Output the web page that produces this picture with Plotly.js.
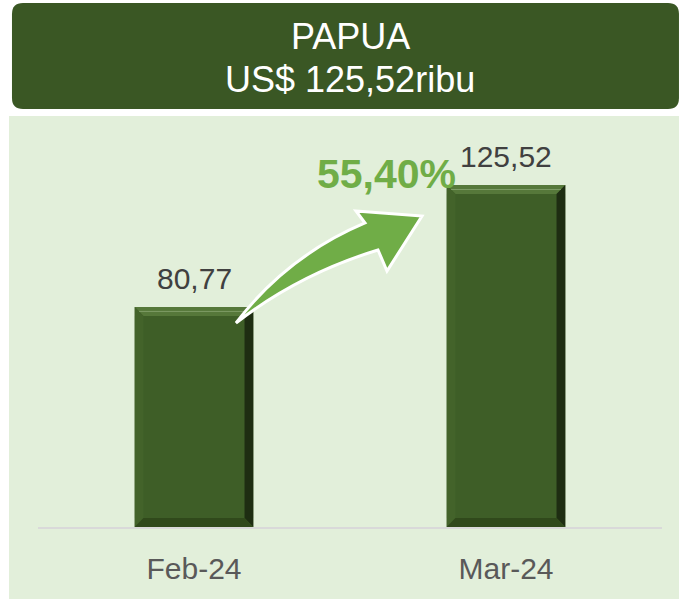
<!DOCTYPE html>
<html>
<head>
<meta charset="utf-8">
<script src="https://cdn.plot.ly/plotly-3.0.1.min.js"></script>
<style>html,body{margin:0;padding:0;background:#fff;}#chart{width:679px;height:599px;}</style>
</head>
<body>
<div id="chart"></div>
<script>
// ---- data ----
const categories = ['Feb-24', 'Mar-24'];
const values = [80.77, 125.52];
const valueLabels = ['80,77', '125,52'];
const growthLabel = '55,40%';
const titleLines = ['PAPUA', 'US$ 125,52ribu'];

// ---- geometry helpers (pixel -> paper) ----
const W = 679, H = 599;
const M = {l: 38, r: 17, t: 118, b: 72};
const PW = W - M.l - M.r, PH = H - M.t - M.b;
function px(x) { return (x - M.l) / PW; }
function py(y) { return (H - M.b - y) / PH; }
function P(x, y) { return px(x).toFixed(4) + ',' + py(y).toFixed(4); }
function rrect(x0, y0, x1, y1, r) {
  return 'M' + P(x0 + r, y0) + ' L' + P(x1 - r, y0) + ' Q' + P(x1, y0) + ' ' + P(x1, y0 + r) +
    ' L' + P(x1, y1 - r) + ' Q' + P(x1, y1) + ' ' + P(x1 - r, y1) +
    ' L' + P(x0 + r, y1) + ' Q' + P(x0, y1) + ' ' + P(x0, y1 - r) +
    ' L' + P(x0, y0 + r) + ' Q' + P(x0, y0) + ' ' + P(x0 + r, y0) + ' Z';
}

const yMax = 150.1;
const barWidth = 0.38;
const FONT = '"Liberation Sans", Arial, sans-serif';

const shapes = [];
// light green panel
shapes.push({type: 'rect', xref: 'paper', yref: 'paper', x0: px(9), x1: px(680), y0: py(599), y1: py(116),
  fillcolor: '#E2EFDA', line: {width: 0}, layer: 'below'});
// header
shapes.push({type: 'path', xref: 'paper', yref: 'paper', path: rrect(12, 3, 679, 109, 11),
  fillcolor: '#3A5724', line: {width: 0}, layer: 'below'});

// bevel decorations derived from the bar values
const bx = 0.028, byPx = 9, by = byPx * yMax / PH;
values.forEach(function (v, i) {
  const hw = barWidth / 2;
  const L = i - hw, R = i + hw;
  function pth(pts) { return 'M' + pts.map(p => p[0] + ',' + p[1]).join(' L') + ' Z'; }
  shapes.push({type: 'path', xref: 'x', yref: 'y', layer: 'above', line: {width: 0}, fillcolor: '#56783A',
    path: pth([[L, v], [R, v], [R - bx, v - by], [L + bx, v - by]])});
  shapes.push({type: 'path', xref: 'x', yref: 'y', layer: 'above', line: {width: 0}, fillcolor: '#1E2D12',
    path: pth([[R, v], [R, 0], [R - bx, by], [R - bx, v - by]])});
  shapes.push({type: 'path', xref: 'x', yref: 'y', layer: 'above', line: {width: 0}, fillcolor: '#43632A',
    path: pth([[L, v], [L + bx, v - by], [L + bx, by], [L, 0]])});
  shapes.push({type: 'path', xref: 'x', yref: 'y', layer: 'above', line: {width: 0}, fillcolor: '#30491B',
    path: pth([[L, 0], [L + bx, by], [R - bx, by], [R, 0]])});
  shapes.push({type: 'line', xref: 'x', yref: 'y', layer: 'above', line: {width: 1, color: '#7E9C66'},
    x0: L + bx * 0.5, x1: R - bx * 0.5, y0: v - by * 0.5, y1: v - by * 0.5});
});

// growth arrow
const arrowPath = 'M' + P(236, 323) + ' Q' + P(287, 256) + ' ' + P(365, 223) +
  ' L' + P(356, 211) + ' L' + P(422, 216) + ' L' + P(387, 271) + ' L' + P(378, 250) +
  ' Q' + P(299, 274) + ' ' + P(236, 323) + ' Z';
shapes.push({type: 'path', xref: 'paper', yref: 'paper', path: arrowPath, fillcolor: '#70AD47',
  line: {color: '#FFFFFF', width: 3}, layer: 'above'});

const annotations = [];
annotations.push({xref: 'paper', yref: 'paper', x: px(350), y: py(36), text: titleLines[0], showarrow: false,
  xanchor: 'center', yanchor: 'middle', font: {family: FONT, size: 36, color: '#FFFFFF'}});
annotations.push({xref: 'paper', yref: 'paper', x: px(350), y: py(79), text: titleLines[1], showarrow: false,
  xanchor: 'center', yanchor: 'middle', font: {family: FONT, size: 36, color: '#FFFFFF'}});
values.forEach(function (v, i) {
  annotations.push({xref: 'x', yref: 'y', x: categories[i], y: v, text: valueLabels[i], showarrow: false,
    xanchor: 'center', yanchor: 'bottom', yshift: 10, font: {family: FONT, size: 30, color: '#404040'}});
});
annotations.push({xref: 'paper', yref: 'paper', x: px(386), y: py(174), text: '<b>' + growthLabel + '</b>', showarrow: false,
  xanchor: 'center', yanchor: 'middle', font: {family: FONT, size: 41, color: '#70AD47'}});

const trace = {
  type: 'bar', x: categories, y: values, width: barWidth,
  marker: {color: '#3E5E27', line: {width: 0}},
  hoverinfo: 'none'
};

const layout = {
  width: W, height: H,
  margin: M,
  paper_bgcolor: '#FFFFFF', plot_bgcolor: 'rgba(0,0,0,0)',
  showlegend: false,
  font: {family: FONT},
  xaxis: {type: 'category', showgrid: false, zeroline: false, showline: true, linecolor: '#D9D9D9', linewidth: 2,
    ticks: '', ticklabelstandoff: 14, tickfont: {family: FONT, size: 30, color: '#595959'}, fixedrange: true},
  yaxis: {range: [0, yMax], showgrid: false, zeroline: false, showline: false, showticklabels: false, fixedrange: true},
  shapes: shapes,
  annotations: annotations
};

Plotly.newPlot('chart', [trace], layout, {displayModeBar: false, staticPlot: true});
</script>
</body>
</html>
